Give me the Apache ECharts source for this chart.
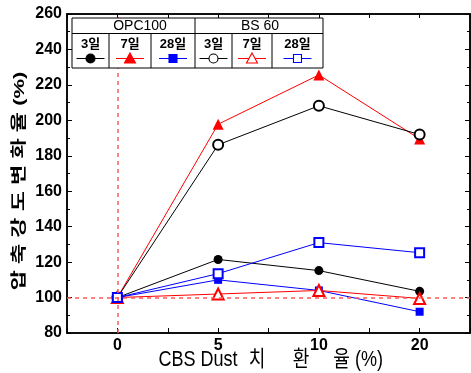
<!DOCTYPE html>
<html>
<head>
<meta charset="utf-8">
<script src="https://cdn.jsdelivr.net/npm/echarts@6/dist/echarts.min.js"></script>
<style>
  html, body { margin: 0; padding: 0; background: #fff; }
  #main { width: 471px; height: 373px; }
</style>
</head>
<body>
<div id="main"></div>
<script>
// CBS Dust 치환율 (positions 0..3 on the axis)
var xLabels = ['0', '5', '10', '20'];
var xPos = [0, 1, 2, 3];

var opc3 = [100, 121.5, 115.2, 103.5];
var opc7 = [100, 197.8, 225.6, 189.5];
var opc28 = [100, 110, 104, 92];
var bs3 = [100, 186.2, 208.2, 192];
var bs7 = [100, 102, 104, 99.5];
var bs28 = [100, 113.5, 131, 125.3];

var refY = 100;
var refX = 0;

// x title is set as spaced words, y title as one rotated line
var xTitleWords = ['CBS Dust', '치', '환', '율', '(%)'];
var xTitleCenters = [198, 257, 301, 341.5, 369];
var yTitle = '압 축 강 도 변 화 율 (%)';

var dom = document.getElementById('main');
var chart = echarts.init(dom, null, { renderer: 'canvas' });

function pts(vals) {
  return vals.map(function (v, i) { return [xPos[i], v]; });
}

var seriesDefs = [
  { name: 'OPC100 3일', data: opc3, color: '#000000', symbol: 'circle', size: 9, label: '3일' },
  { name: 'OPC100 7일', data: opc7, color: '#ff0000', symbol: 'triangle', size: 11, label: '7일' },
  { name: 'OPC100 28일', data: opc28, color: '#0000ff', symbol: 'rect', size: 8, label: '28일' },
  { name: 'BS 60 3일', data: bs3, color: '#000000', symbol: 'emptyCircle', size: 10, label: '3일' },
  { name: 'BS 60 7일', data: bs7, color: '#ff0000', symbol: 'emptyTriangle', size: 11, label: '7일' },
  { name: 'BS 60 28일', data: bs28, color: '#0000ff', symbol: 'emptyRect', size: 9, label: '28일' }
];

var series = seriesDefs.map(function (s) {
  return {
    name: s.name,
    type: 'line',
    data: pts(s.data),
    symbol: s.symbol,
    symbolSize: s.size,
    showAllSymbol: true,
    lineStyle: { color: s.color, width: 1 },
    itemStyle: { color: s.color, borderWidth: 1.1 },
    emphasis: { disabled: true },
    z: 3
  };
});

// reference lines
series.unshift({
  type: 'line',
  data: [],
  silent: true,
  markLine: {
    silent: true,
    symbol: 'none',
    label: { show: false },
    lineStyle: { color: '#ff5a5a', type: [4, 4], width: 1.5 },
    data: [{ yAxis: refY }, { xAxis: refX }]
  },
  z: 1
});

// legend table drawn as graphic
var tLeft = 72, tTop = 18, tRight = 323, tBottom = 68, tMid = 33.5;
var colEdges = [72, 109, 151, 195, 232, 272, 323];
var graphics = [];
graphics.push({ type: 'rect', shape: { x: tLeft, y: tTop, width: tRight - tLeft, height: tBottom - tTop },
  style: { fill: '#fff', stroke: '#000', lineWidth: 1 }, z: 10 });
graphics.push({ type: 'line', shape: { x1: tLeft, y1: tMid, x2: tRight, y2: tMid }, style: { stroke: '#000', lineWidth: 1 }, z: 11 });
colEdges.slice(1, -1).forEach(function (x, i) {
  graphics.push({ type: 'line', shape: { x1: x, y1: i === 2 ? tTop : tMid, x2: x, y2: tBottom },
    style: { stroke: '#000', lineWidth: 1 }, z: 11 });
});
['OPC100', 'BS 60'].forEach(function (g, i) {
  graphics.push({ type: 'text', x: i === 0 ? 140 : 260, y: 26.5, z: 12,
    style: { text: g, font: '14px "Liberation Sans", Arial', fill: '#000', align: 'center', verticalAlign: 'middle' } });
});
seriesDefs.forEach(function (s, i) {
  var cx = (colEdges[i] + colEdges[i + 1]) / 2;
  graphics.push({ type: 'text', x: cx, y: 44, z: 12,
    style: { text: s.label, font: 'bold 13px "Liberation Sans", "Noto Sans CJK KR"', fill: '#000', align: 'center', verticalAlign: 'middle' } });
  graphics.push({ type: 'line', shape: { x1: cx - 14, y1: 58.5, x2: cx + 14, y2: 58.5 }, style: { stroke: s.color, lineWidth: 1 }, z: 12 });
  var empty = s.symbol.indexOf('empty') === 0;
  var style = { fill: empty ? '#fff' : s.color, stroke: s.color, lineWidth: 1.1 };
  var shape = s.symbol.replace('empty', '').toLowerCase();
  if (shape === 'circle') {
    graphics.push({ type: 'circle', shape: { cx: cx, cy: 58.5, r: 4.5 }, style: style, z: 13 });
  } else if (shape === 'triangle') {
    graphics.push({ type: 'polygon', shape: { points: [[cx, 53], [cx + 5.5, 63], [cx - 5.5, 63]] }, style: style, z: 13 });
  } else {
    graphics.push({ type: 'rect', shape: { x: cx - 4, y: 54.5, width: 8, height: 8 }, style: style, z: 13 });
  }
});

// axis titles (the original type is narrow, so they are scaled)
xTitleWords.forEach(function (w, i) {
  graphics.push({ type: 'text', x: xTitleCenters[i], y: 360, scaleX: 0.82, z: 12,
    style: { text: w, font: '22px "Liberation Sans", "Noto Sans CJK KR"', fill: '#000', align: 'center', verticalAlign: 'middle' } });
});
graphics.push({ type: 'text', x: 20, y: 181, rotation: Math.PI / 2, scaleY: 0.7, z: 12,
  style: { text: yTitle, font: 'bold 22px "Liberation Sans", "Noto Sans CJK KR"', fill: '#000', align: 'center', verticalAlign: 'middle' } });

var tickFont = { fontSize: 16, fontWeight: 'bold', color: '#000', fontFamily: '"Liberation Sans", Arial' };

var option = {
  animation: false,
  backgroundColor: '#fff',
  grid: { left: 67, right: 1, top: 14, bottom: 40, show: true, borderColor: '#000', borderWidth: 1.5,
    containLabel: false, outerBoundsMode: 'none' },
  xAxis: [{
    type: 'value',
    min: -0.5,
    max: 3.5,
    interval: 0.5,
    axisLine: { onZero: false, lineStyle: { color: '#000', width: 1.5 } },
    axisTick: { inside: true, length: 5, lineStyle: { color: '#000' } },
    splitLine: { show: false },
    axisLabel: Object.assign({
      margin: 5,
      showMinLabel: true, showMaxLabel: true,
      formatter: function (v) {
        var i = xPos.indexOf(v);
        return i >= 0 ? xLabels[i] : '';
      }
    }, tickFont)
  }, {
    type: 'value',
    position: 'top',
    min: -0.5,
    max: 3.5,
    interval: 0.5,
    axisLine: { onZero: false, lineStyle: { color: '#000', width: 1.5 } },
    axisTick: { inside: true, length: 4, lineStyle: { color: '#000' } },
    axisLabel: { show: false },
    splitLine: { show: false }
  }],
  yAxis: [{
    type: 'value',
    min: 80,
    max: 260,
    interval: 20,
    axisLine: { show: true, onZero: false, lineStyle: { color: '#000', width: 1.5 } },
    axisTick: { inside: true, length: 5, lineStyle: { color: '#000' } },
    minorTick: { show: true, splitNumber: 2, length: 3, lineStyle: { color: '#000' } },
    splitLine: { show: false },
    axisLabel: Object.assign({ margin: 5 }, tickFont)
  }, {
    type: 'value',
    position: 'right',
    min: 80,
    max: 260,
    interval: 20,
    axisLine: { show: true, onZero: false, lineStyle: { color: '#000', width: 1.5 } },
    axisTick: { inside: true, length: 5, lineStyle: { color: '#000' } },
    minorTick: { show: true, splitNumber: 2, length: 3, lineStyle: { color: '#000' } },
    axisLabel: { show: false },
    splitLine: { show: false }
  }],
  graphic: graphics,
  series: series
};

chart.setOption(option);
window.addEventListener('resize', chart.resize);
</script>
</body>
</html>
